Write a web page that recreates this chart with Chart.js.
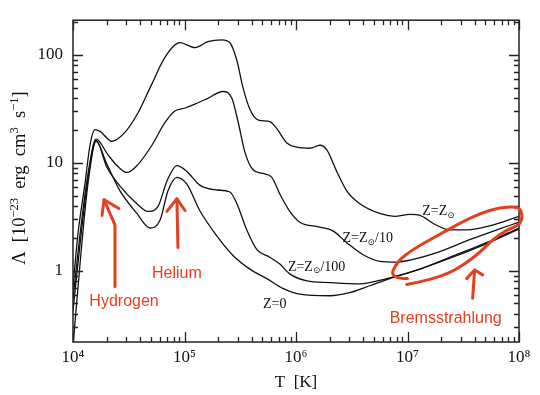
<!DOCTYPE html>
<html>
<head>
<meta charset="utf-8">
<script src="https://cdn.jsdelivr.net/npm/chart.js@4.4.1/dist/chart.umd.min.js"></script>
<style>
  body { margin: 0; background: #fff; }
</style>
</head>
<body>
<canvas id="coolChart" width="540" height="395"></canvas>
<script>
// cooling function, T in K, Lambda in 1e-23 erg cm^3 s^-1
var solarT = [1.0e4, 1.11e4, 1.28e4, 1.42e4, 1.57e4, 1.75e4, 2.23e4, 2.92e4, 3.82e4, 5.1e4, 6.67e4, 9.1e4, 1.24e5, 1.62e5, 2.16e5, 2.55e5, 2.95e5, 3.33e5, 3.85e5, 4.55e5, 5.82e5, 6.73e5, 8.28e5, 1.02e6, 1.33e6, 1.64e6, 1.89e6, 2.32e6, 2.86e6, 3.74e6, 5.64e6, 7.67e6, 1.05e7, 1.29e7, 1.75e7, 2.39e7, 3.39e7, 5.79e7, 1.0e8];
var solarL = [0.72, 2.25, 6.4, 14.6, 20.4, 19.6, 15.9, 19.2, 29.0, 54, 95, 130, 117, 133, 138, 130, 89, 51, 31.6, 25.1, 24.1, 20.8, 15.3, 14.0, 13.7, 14.6, 13.2, 8.35, 5.5, 4.2, 3.41, 3.21, 3.34, 3.27, 2.71, 2.40, 2.40, 2.66, 3.21];

var tenthT = [1.0e4, 1.16e4, 1.36e4, 1.61e4, 2.06e4, 2.53e4, 3.05e4, 3.82e4, 5.1e4, 6.67e4, 8.2e4, 1.01e5, 1.24e5, 1.62e5, 2.21e5, 2.66e5, 3.01e5, 3.48e5, 4.1e5, 5.04e5, 6.07e5, 7.16e5, 8.79e5, 1.08e6, 1.63e6, 2.14e6, 2.85e6, 3.97e6, 5.64e6, 8.0e6, 1.05e7, 1.83e7, 3.61e7, 6.3e7, 1.0e8];
var tenthL = [0.55, 2.25, 7.8, 16.6, 11.9, 9.26, 8.17, 9.66, 14.6, 23.6, 30.3, 32.3, 35.1, 39.7, 45.9, 39.7, 24.6, 12.6, 8.7, 8.0, 7.37, 5.17, 3.56, 2.83, 2.55, 2.35, 1.83, 1.42, 1.23, 1.21, 1.26, 1.48, 1.95, 2.40, 2.83];

var hundT = [1.0e4, 1.16e4, 1.36e4, 1.61e4, 2.02e4, 2.64e4, 3.74e4, 4.7e4, 5.78e4, 6.95e4, 8.55e4, 1.05e5, 1.37e5, 1.95e5, 2.55e5, 2.95e5, 3.62e5, 4.46e5, 5.82e5, 7.16e5, 8.79e5, 1.25e6, 2.01e6, 3.73e6, 6.52e6, 1.29e7, 2.54e7, 5.13e7, 1.0e8];
var hundL = [0.43, 1.83, 7.06, 16.2, 9.07, 6.11, 4.20, 3.56, 3.95, 6.78, 9.45, 8.35, 6.24, 5.62, 5.39, 4.20, 2.40, 1.58, 1.34, 1.16, 0.94, 0.81, 0.78, 0.76, 0.85, 1.04, 1.37, 1.83, 2.50];

var zeroT = [1.0e4, 1.16e4, 1.36e4, 1.61e4, 2.02e4, 2.64e4, 3.74e4, 4.9e4, 6.03e4, 7.1e4, 8.55e4, 1.05e5, 1.37e5, 1.95e5, 2.72e5, 3.86e5, 5.47e5, 7.62e5, 1.08e6, 2.01e6, 3.03e6, 4.58e6, 6.93e6, 1.29e7, 2.54e7, 5.13e7, 1.0e8];
var zeroL = [0.2, 1.21, 6.37, 15.9, 9.66, 5.51, 3.41, 2.50, 2.95, 5.51, 7.37, 6.37, 3.63, 2.11, 1.39, 1.04, 0.85, 0.69, 0.61, 0.59, 0.63, 0.73, 0.85, 1.04, 1.34, 1.79, 2.45];

var xTickValues = [1e4, 1e5, 1e6, 1e7, 1e8];
var xTickLabels = ['10\u2074', '10\u2075', '10\u2076', '10\u2077', '10\u2078'];
var yTickValues = [1, 10, 100];
var yTickLabels = ['1', '10', '100'];

var RED = '#e2401f';
var SERIF = '"Liberation Serif", "DejaVu Serif", serif';

function pairs(ts, ls) {
    return ts.map(function (t, i) { return { x: t, y: ls[i] }; });
}

function logTicks(lo, hi) {
    var out = [];
    for (var d = Math.floor(Math.log10(lo)); d <= Math.ceil(Math.log10(hi)); d++) {
        for (var m = 1; m <= 9; m++) {
            var v = m * Math.pow(10, d);
            if (v >= lo * 0.999 && v <= hi * 1.001) out.push({ value: v });
        }
    }
    return out;
}

function isDecade(v) {
    var l = Math.log10(v);
    return Math.abs(l - Math.round(l)) < 1e-6;
}

function curve(data) {
    return {
        data: data,
        borderColor: '#111',
        borderWidth: 1.3,
        pointRadius: 0,
        fill: false,
        cubicInterpolationMode: 'monotone'
    };
}

// draws a run of [text, size, raise] pieces starting at x,y
function runWidth(ctx, parts) {
    var w = 0;
    parts.forEach(function (p) { ctx.font = p[1] + 'px ' + SERIF; w += ctx.measureText(p[0]).width; });
    return w;
}
function drawRun(ctx, parts, x, y) {
    parts.forEach(function (p) {
        ctx.font = p[1] + 'px ' + SERIF;
        ctx.fillText(p[0], x, y - p[2]);
        x += ctx.measureText(p[0]).width;
    });
}

var yTitle = [['\u039B  [10', 18.5, 0], ['\u221223', 12.5, 7], ['  erg  cm', 18.5, 0], ['3', 12.5, 7], ['  s', 18.5, 0], ['\u22121', 12.5, 7], [']', 18.5, 0]];

// hand drawn annotations, in data coordinates [T, Lambda]
var notes = {
    strokes: [
        [[2.38e4, 0.72], [2.38e4, 2.66], [1.9e4, 4.57]],
        [[1.82e4, 3.27], [1.9e4, 4.57], [2.58e4, 3.79]],
        [[8.73e4, 1.65], [8.55e4, 4.66]],
        [[6.95e4, 3.56], [8.55e4, 4.66], [1.01e5, 3.63]],
        [[3.84e7, 0.56], [4.0e7, 1.02]],
        [[3.39e7, 0.85], [4.0e7, 1.02], [4.72e7, 0.92]],
        [[1.0e7, 0.85], [6.92e6, 0.85], [8.0e6, 1.21], [1.11e7, 1.58], [1.83e7, 2.11], [2.94e7, 2.77],
         [4.44e7, 3.41], [6.7e7, 3.87], [1.01e8, 3.95], [1.08e8, 3.21], [1.01e8, 2.66], [7.75e7, 2.40],
         [5.79e7, 1.95], [4.17e7, 1.39], [2.54e7, 0.98], [1.58e7, 0.83], [9.85e6, 0.75]]
    ],
    words: [
        { t: 2.87e4, l: 0.525, text: 'Hydrogen' },
        { t: 8.55e4, l: 0.94, text: 'Helium' },
        { t: 2.2e7, l: 0.361, text: 'Bremsstrahlung' }
    ],
    curveLabels: [
        { t: 1.9e7, l: 3.56, sun: true, tail: '' },
        { t: 4.4e6, l: 1.99, sun: true, tail: '/10' },
        { t: 1.53e6, l: 1.09, sun: true, tail: '/100' },
        { t: 6.45e5, l: 0.493, sun: false, tail: '' }
    ]
};

var frame = {
    id: 'frame',
    afterDraw: function (chart) {
        var ctx = chart.ctx, a = chart.chartArea;
        var xs = chart.scales.x, ys = chart.scales.y;
        ctx.save();
        ctx.strokeStyle = '#222';
        ctx.lineWidth = 1.3;
        ctx.beginPath();
        xs.ticks.forEach(function (t) {
            var p = Math.round(xs.getPixelForValue(t.value)) + 0.5;
            var len = isDecade(t.value) ? 10 : 5;
            ctx.moveTo(p, a.bottom); ctx.lineTo(p, a.bottom - len);
            ctx.moveTo(p, a.top); ctx.lineTo(p, a.top + len);
        });
        ys.ticks.forEach(function (t) {
            var p = Math.round(ys.getPixelForValue(t.value)) + 0.5;
            var len = isDecade(t.value) ? 10 : 5;
            ctx.moveTo(a.left, p); ctx.lineTo(a.left + len, p);
            ctx.moveTo(a.right, p); ctx.lineTo(a.right - len, p);
        });
        ctx.stroke();
        ctx.lineWidth = 1.5;
        ctx.strokeRect(a.left, a.top, a.right - a.left, a.bottom - a.top);

        ctx.fillStyle = '#111';
        ctx.textBaseline = 'alphabetic';
        ctx.textAlign = 'left';

        // y axis title, rotated
        ctx.save();
        ctx.translate(25, (a.top + a.bottom) / 2 - 3);
        ctx.rotate(-Math.PI / 2);
        drawRun(ctx, yTitle, -runWidth(ctx, yTitle) / 2, 0);
        ctx.restore();

        // curve labels
        ctx.textBaseline = 'middle';
        notes.curveLabels.forEach(function (c) {
            var cx = xs.getPixelForValue(c.t), cy = ys.getPixelForValue(c.l);
            var parts = c.sun ? [['Z=Z', 14, 0], ['\u2299', 9, -4], [c.tail, 14, 0]] : [['Z=0', 14, 0]];
            drawRun(ctx, parts, cx - runWidth(ctx, parts) / 2, cy);
        });

        // red annotations
        ctx.strokeStyle = RED;
        ctx.lineWidth = 3;
        ctx.lineCap = 'round';
        ctx.lineJoin = 'round';
        notes.strokes.forEach(function (s) {
            var p = s.map(function (d) { return [xs.getPixelForValue(d[0]), ys.getPixelForValue(d[1])]; });
            ctx.beginPath();
            ctx.moveTo(p[0][0], p[0][1]);
            if (p.length < 4) {
                for (var i = 1; i < p.length; i++) ctx.lineTo(p[i][0], p[i][1]);
            } else {
                for (var j = 1; j < p.length - 1; j++) {
                    var mx = (p[j][0] + p[j + 1][0]) / 2, my = (p[j][1] + p[j + 1][1]) / 2;
                    ctx.quadraticCurveTo(p[j][0], p[j][1], mx, my);
                }
                ctx.lineTo(p[p.length - 1][0], p[p.length - 1][1]);
            }
            ctx.stroke();
        });
        ctx.fillStyle = RED;
        ctx.font = '16px "Liberation Sans", Arial, sans-serif';
        ctx.textAlign = 'center';
        notes.words.forEach(function (w) {
            ctx.fillText(w.text, xs.getPixelForValue(w.t), ys.getPixelForValue(w.l));
        });
        ctx.restore();
    }
};

new Chart(document.getElementById('coolChart').getContext('2d'), {
    type: 'line',
    data: {
        datasets: [
            curve(pairs(solarT, solarL)),
            curve(pairs(tenthT, tenthL)),
            curve(pairs(hundT, hundL)),
            curve(pairs(zeroT, zeroL))
        ]
    },
    options: {
        responsive: false,
        animation: false,
        layout: { padding: { top: 12, right: 21, left: 0, bottom: 0 } },
        plugins: { legend: { display: false }, tooltip: { enabled: false } },
        scales: {
            x: {
                type: 'logarithmic',
                min: 1e4, max: 1e8,
                bounds: 'data',
                afterBuildTicks: function (s) { s.ticks = logTicks(1e4, 1e8); },
                afterFit: function (s) { s.height = 53; },
                grid: { display: false, drawTicks: false },
                border: { display: false },
                ticks: {
                    autoSkip: false, maxRotation: 0, padding: 5, color: '#111',
                    font: { family: SERIF, size: 17 },
                    callback: function (v) {
                        var i = xTickValues.indexOf(v);
                        return i >= 0 ? xTickLabels[i] : '';
                    }
                },
                title: {
                    display: true, text: 'T  [K]', color: '#111',
                    font: { family: SERIF, size: 17 },
                    padding: { top: 0, bottom: 2 }
                }
            },
            y: {
                type: 'logarithmic',
                min: 0.22, max: 210,
                bounds: 'data',
                afterBuildTicks: function (s) { s.ticks = logTicks(0.22, 210); },
                afterFit: function (s) { s.width = 73; },
                grid: { display: false, drawTicks: false },
                border: { display: false },
                ticks: {
                    autoSkip: false, padding: 10, color: '#111',
                    font: { family: SERIF, size: 17 },
                    callback: function (v) {
                        var i = yTickValues.indexOf(v);
                        return i >= 0 ? yTickLabels[i] : '';
                    }
                },
                title: { display: false }
            }
        }
    },
    plugins: [frame]
});
</script>
</body>
</html>
